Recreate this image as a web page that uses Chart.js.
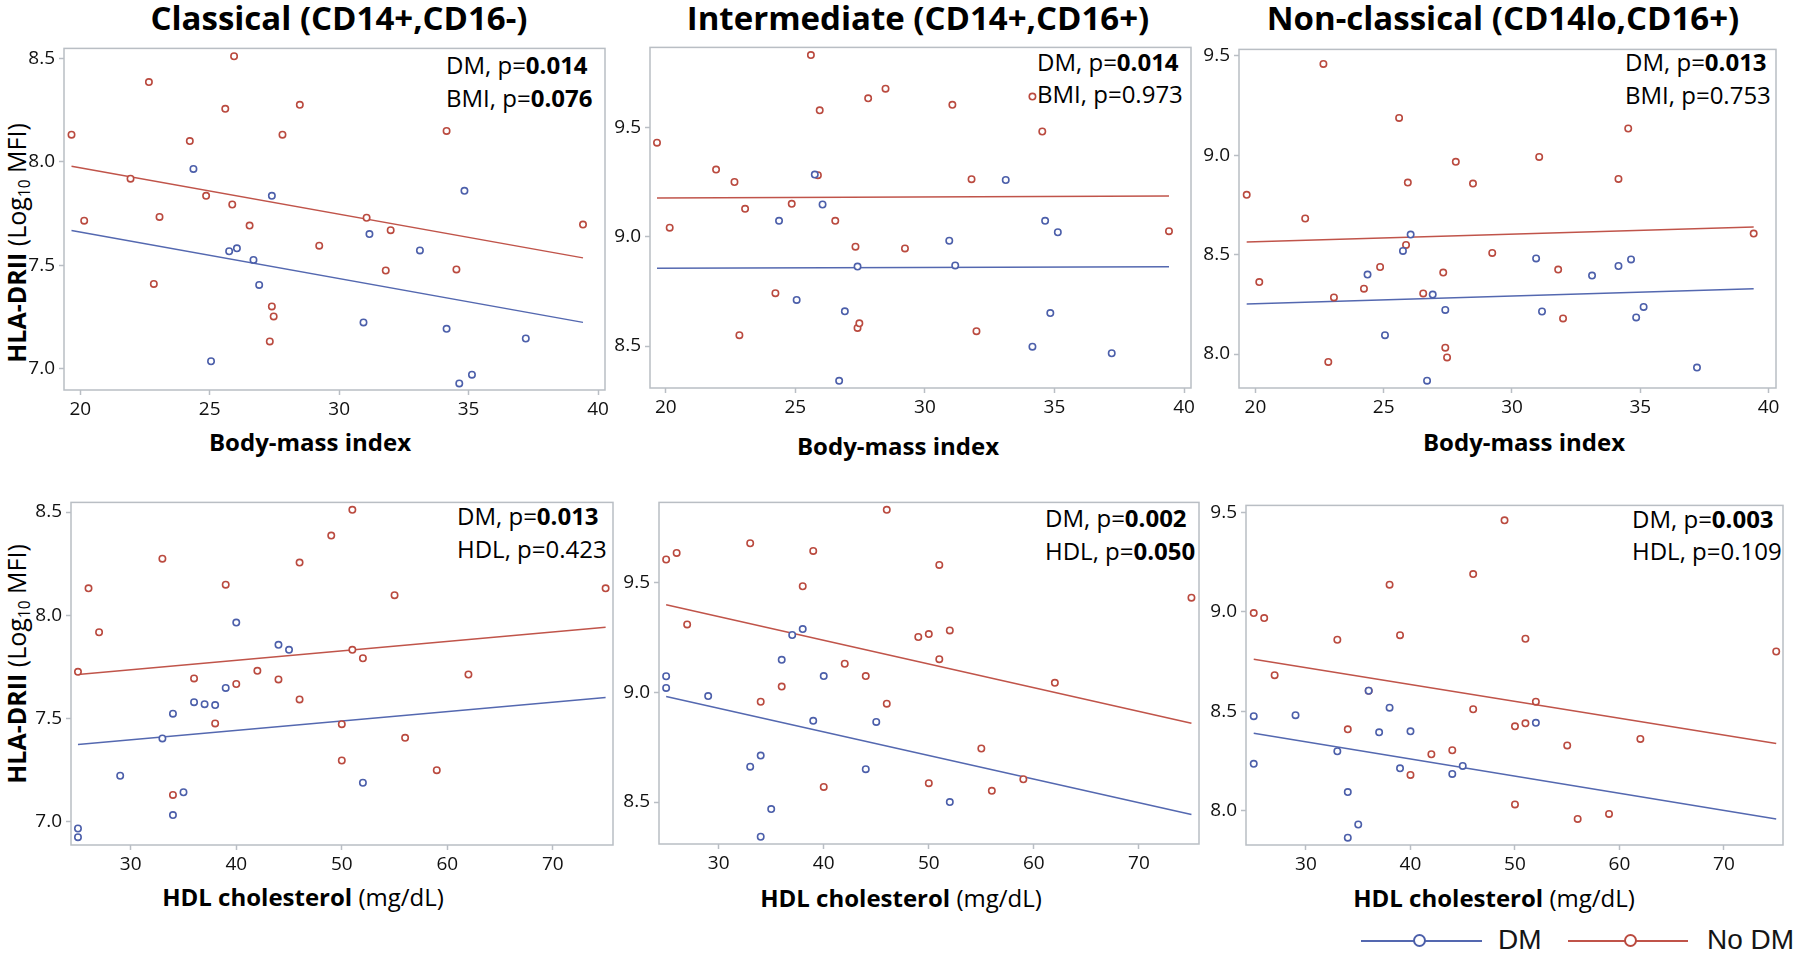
<!DOCTYPE html>
<html>
<head>
<meta charset="utf-8">
<title>HLA-DRII vs BMI and HDL</title>
<script src="https://cdn.jsdelivr.net/npm/chart.js@4.4.0/dist/chart.umd.min.js"></script>
<style>
    html, body { margin: 0; padding: 0; background: #fff; width: 1800px; height: 957px; overflow: hidden; }
    body { position: relative; font-family: 'Open Sans', sans-serif; color: #000; }
    canvas { position: absolute; }
    .txt { position: absolute; white-space: nowrap; line-height: 1; }
    .title { font-size: 33px; font-weight: bold; transform: translateX(-50%); }
    .xlab { font-size: 24px; font-weight: bold; transform: translateX(-50%); }
    .xlab span { font-weight: normal; }
    .note { font-size: 24px; }
    .ylab { font-size: 25px; font-weight: bold; transform: translate(-50%, -50%) rotate(-90deg); }
    .ylab span { font-weight: normal; }
    sub { font-size: 0.62em; vertical-align: -0.28em; line-height: 0; }
    .leg-line { position: absolute; height: 2px; }
    .leg-dot { position: absolute; width: 13px; height: 13px; box-sizing: border-box; border: 2px solid; border-radius: 50%; background: #fff; }
    .leg-txt { position: absolute; font-family: 'Liberation Sans', Arial, sans-serif; font-size: 28px; line-height: 1; color: #151515; }
</style>
</head>
<body>

<div class="txt title" style="left:339px; top:1px;">Classical (CD14+,CD16-)</div>
<div class="txt title" style="left:918px; top:1px;">Intermediate (CD14+,CD16+)</div>
<div class="txt title" style="left:1503px; top:1px;">Non-classical (CD14lo,CD16+)</div>

<div class="txt ylab" style="left:16px; top:243px;">HLA-DRII <span>(Log<sub>10</sub> MFI)</span></div>
<div class="txt ylab" style="left:16px; top:664px;">HLA-DRII <span>(Log<sub>10</sub> MFI)</span></div>

<div class="txt xlab" style="left:310px; top:430px;">Body-mass index</div>
<div class="txt xlab" style="left:898px; top:434px;">Body-mass index</div>
<div class="txt xlab" style="left:1524px; top:430px;">Body-mass index</div>
<div class="txt xlab" style="left:303px; top:885px;">HDL cholesterol <span>(mg/dL)</span></div>
<div class="txt xlab" style="left:901px; top:886px;">HDL cholesterol <span>(mg/dL)</span></div>
<div class="txt xlab" style="left:1494px; top:886px;">HDL cholesterol <span>(mg/dL)</span></div>

<div class="txt note" style="left:446px; top:53px;">DM, p=<b>0.014</b></div>
<div class="txt note" style="left:446px; top:86px;">BMI, p=<b>0.076</b></div>
<div class="txt note" style="left:1037px; top:50px;">DM, p=<b>0.014</b></div>
<div class="txt note" style="left:1037px; top:82px;">BMI, p=0.973</div>
<div class="txt note" style="left:1625px; top:50px;">DM, p=<b>0.013</b></div>
<div class="txt note" style="left:1625px; top:83px;">BMI, p=0.753</div>
<div class="txt note" style="left:457px; top:504px;">DM, p=<b>0.013</b></div>
<div class="txt note" style="left:457px; top:537px;">HDL, p=0.423</div>
<div class="txt note" style="left:1045px; top:506px;">DM, p=<b>0.002</b></div>
<div class="txt note" style="left:1045px; top:539px;">HDL, p=<b>0.050</b></div>
<div class="txt note" style="left:1632px; top:507px;">DM, p=<b>0.003</b></div>
<div class="txt note" style="left:1632px; top:539px;">HDL, p=0.109</div>

<div class="leg-line" style="left:1361px; top:940px; width:121px; background:#5468b0;"></div>
<div class="leg-dot" style="left:1413px; top:934px; border-color:#4c5faa;"></div>
<div class="leg-txt" style="left:1498px; top:926px;">DM</div>
<div class="leg-line" style="left:1568px; top:940px; width:120px; background:#c0544a;"></div>
<div class="leg-dot" style="left:1624px; top:934px; border-color:#ba4a3f;"></div>
<div class="leg-txt" style="left:1707px; top:926px;">No DM</div>

<script>
// tick values
const bmiTicks = [20, 25, 30, 35, 40];
const hdlTicks = [30, 40, 50, 60, 70];
const lowTicks = [7.0, 7.5, 8.0, 8.5];
const midTicks = [8.5, 9.0, 9.5];
const highTicks = [8.0, 8.5, 9.0, 9.5];

// x values, shared by the panels of one row
const bmiDM = [24.37, 25.05, 25.75, 26.05, 26.69, 26.91, 27.40, 30.94, 31.17, 33.12, 34.15, 34.64, 34.84, 35.13, 37.21];
const bmiNoDM = [19.66, 20.15, 21.94, 22.65, 22.84, 23.06, 24.23, 24.86, 25.60, 25.87, 25.94, 26.54, 27.32, 27.40, 27.47, 27.81, 28.48, 29.23, 31.06, 31.80, 31.99, 34.15, 34.53, 39.42];
const hdlDM = [25, 25, 29, 33, 34, 34, 35, 36, 37, 38, 39, 40, 44, 45, 52];
const hdlNoDM = [25, 26, 27, 33, 34, 36, 38, 39, 40, 42, 44, 46, 46, 49, 50, 50, 51, 51, 52, 55, 56, 59, 62, 75];

// HLA-DRII, top row (BMI)
const classicalBmiDM = [7.965, 7.035, 7.567, 7.581, 7.525, 7.404, 7.835, 7.223, 7.650, 7.571, 7.192, 6.928, 7.859, 6.970, 7.145];
const classicalBmiNoDM = [8.131, 7.715, 7.918, 8.385, 7.409, 7.733, 8.100, 7.835, 8.256, 7.793, 8.510, 7.691, 7.131, 7.300, 7.252, 8.131, 8.275, 7.594, 7.729, 7.474, 7.669, 8.149, 7.479, 7.696];
const intermBmiDM = [9.073, 8.711, 9.285, 9.148, 8.341, 8.659, 8.864, 8.982, 8.869, 9.260, 8.497, 9.073, 8.651, 9.021, 8.467];
const intermBmiNoDM = [9.431, 9.042, 9.308, 9.251, 8.550, 9.128, 8.742, 9.151, 9.832, 9.282, 9.579, 9.073, 8.955, 8.583, 8.604, 9.634, 9.678, 8.947, 9.604, 9.264, 8.568, 9.642, 9.482, 9.026];
const nonclassBmiDM = [8.400, 8.095, 8.519, 8.601, 7.866, 8.299, 8.222, 8.481, 8.214, 8.395, 8.443, 8.476, 8.184, 8.237, 7.932];
const nonclassBmiNoDM = [8.801, 8.362, 8.682, 9.460, 7.960, 8.285, 8.329, 8.438, 9.188, 8.549, 8.863, 8.305, 8.410, 8.032, 7.983, 8.967, 8.858, 8.509, 8.992, 8.425, 8.179, 8.881, 9.135, 8.606];

// HLA-DRII, bottom row (HDL)
const classicalHdlDM = [6.965, 6.923, 7.221, 7.402, 7.522, 7.030, 7.141, 7.578, 7.568, 7.564, 7.647, 7.964, 7.856, 7.832, 7.187];
const classicalHdlNoDM = [7.725, 8.130, 7.917, 8.274, 7.128, 7.693, 7.475, 8.148, 7.666, 7.730, 7.688, 8.255, 7.591, 8.386, 7.471, 7.295, 8.511, 7.832, 7.791, 8.097, 7.405, 7.248, 7.712, 8.130];
const intermHdlDM = [9.073, 9.020, 8.983, 8.661, 8.712, 8.342, 8.468, 9.148, 9.261, 9.288, 8.870, 9.074, 8.650, 8.865, 8.500];
const intermHdlNoDM = [9.605, 9.635, 9.309, 9.679, 8.957, 9.026, 9.483, 9.644, 8.569, 9.130, 9.074, 9.831, 8.948, 9.252, 9.265, 8.586, 9.580, 9.151, 9.282, 8.744, 8.551, 8.604, 9.043, 9.431];
const nonclassHdlDM = [8.476, 8.237, 8.481, 8.300, 8.095, 7.866, 7.932, 8.604, 8.395, 8.519, 8.214, 8.400, 8.186, 8.226, 8.443];
const nonclassHdlNoDM = [8.994, 8.969, 8.682, 8.860, 8.410, 8.604, 9.137, 8.883, 8.181, 8.285, 8.305, 9.190, 8.511, 9.460, 8.425, 8.033, 8.865, 8.440, 8.549, 8.329, 7.960, 7.985, 8.362, 8.801];

// regression lines, start and end
const bmiFitX = [19.66, 39.42];
const hdlFitX = [25, 75];
const classicalBmiFitDM = [7.667, 7.223];
const classicalBmiFitNoDM = [7.978, 7.535];
const intermBmiFitDM = [8.856, 8.863];
const intermBmiFitNoDM = [9.178, 9.187];
const nonclassBmiFitDM = [8.252, 8.329];
const nonclassBmiFitNoDM = [8.564, 8.639];
const classicalHdlFitDM = [7.373, 7.600];
const classicalHdlFitNoDM = [7.712, 7.941];
const intermHdlFitDM = [8.981, 8.443];
const intermHdlFitNoDM = [9.399, 8.859];
const nonclassHdlFitDM = [8.390, 7.960];
const nonclassHdlFitNoDM = [8.762, 8.339];

const BLUE = '#4c5faa';
const RED = '#ba4a3f';
const BLUE_LINE = '#5468b0';
const RED_LINE = '#c0544a';
const GREY = '#b9bec4';

// fixed room around each plot box
const Y_W = 60;
const X_H = 40;
const PAD_T = 12;
const PAD_R = 16;

Chart.defaults.font.family = "'Open Sans', sans-serif";

const frame = {
    id: 'frame',
    beforeDatasetsDraw(chart) {
        const a = chart.chartArea;
        const ctx = chart.ctx;
        ctx.save();
        ctx.strokeStyle = GREY;
        ctx.lineWidth = 1.5;
        ctx.strokeRect(a.left, a.top, a.right - a.left, a.bottom - a.top);
        ctx.restore();
    }
};

function toPoints(xs, ys) {
    return xs.map((x, i) => ({ x: x, y: ys[i] }));
}

function makePanel(p) {
    const canvas = document.createElement('canvas');
    const w = Math.round(p.box[2] - p.box[0] + Y_W + PAD_R);
    const h = Math.round(p.box[3] - p.box[1] + PAD_T + X_H);
    canvas.width = w;
    canvas.height = h;
    canvas.style.width = w + 'px';
    canvas.style.height = h + 'px';
    canvas.style.left = (p.box[0] - Y_W) + 'px';
    canvas.style.top = (p.box[1] - PAD_T) + 'px';
    document.body.appendChild(canvas);

    const tickFont = { size: 19 };

    new Chart(canvas, {
        type: 'scatter',
        data: {
            datasets: [
                {
                    label: 'DM',
                    data: toPoints(p.xDM, p.yDM),
                    borderColor: BLUE,
                    backgroundColor: '#fff',
                    pointRadius: 3.2,
                    pointBorderWidth: 1.6
                },
                {
                    label: 'No DM',
                    data: toPoints(p.xNoDM, p.yNoDM),
                    borderColor: RED,
                    backgroundColor: '#fff',
                    pointRadius: 3.2,
                    pointBorderWidth: 1.6
                },
                {
                    label: 'DM fit',
                    data: toPoints(p.fitX, p.fitDM),
                    showLine: true,
                    pointRadius: 0,
                    borderColor: BLUE_LINE,
                    borderWidth: 1.5
                },
                {
                    label: 'No DM fit',
                    data: toPoints(p.fitX, p.fitNoDM),
                    showLine: true,
                    pointRadius: 0,
                    borderColor: RED_LINE,
                    borderWidth: 1.5
                }
            ]
        },
        options: {
            responsive: false,
            animation: false,
            devicePixelRatio: 1,
            layout: { padding: { left: 0, top: PAD_T, right: PAD_R, bottom: 0 } },
            plugins: { legend: { display: false }, tooltip: { enabled: false } },
            scales: {
                x: {
                    type: 'linear',
                    min: p.xRange[0],
                    max: p.xRange[1],
                    afterBuildTicks: s => { s.ticks = p.xTicks.map(v => ({ value: v })); },
                    afterFit: s => { s.height = X_H; },
                    border: { display: false },
                    grid: { drawOnChartArea: false, drawTicks: true, tickLength: 5, tickColor: GREY, tickWidth: 1.5 },
                    ticks: { autoSkip: false, maxRotation: 0, padding: 3, color: '#111', font: tickFont, callback: v => String(v) }
                },
                y: {
                    type: 'linear',
                    min: p.yRange[0],
                    max: p.yRange[1],
                    afterBuildTicks: s => { s.ticks = p.yTicks.map(v => ({ value: v })); },
                    afterFit: s => { s.width = Y_W; },
                    border: { display: false },
                    grid: { drawOnChartArea: false, drawTicks: true, tickLength: 5, tickColor: GREY, tickWidth: 1.5 },
                    ticks: { autoSkip: false, padding: 4, color: '#111', font: tickFont, callback: v => v.toFixed(1) }
                }
            }
        },
        plugins: [frame]
    });
}

const panels = [
    { box: [64, 45, 605, 390], xRange: [19.37, 40.27], yRange: [6.896, 8.548], xTicks: bmiTicks, yTicks: lowTicks,
      xDM: bmiDM, yDM: classicalBmiDM, xNoDM: bmiNoDM, yNoDM: classicalBmiNoDM, fitX: bmiFitX, fitDM: classicalBmiFitDM, fitNoDM: classicalBmiFitNoDM },
    { box: [650, 44, 1191, 388], xRange: [19.39, 40.27], yRange: [8.308, 9.867], xTicks: bmiTicks, yTicks: midTicks,
      xDM: bmiDM, yDM: intermBmiDM, xNoDM: bmiNoDM, yNoDM: intermBmiNoDM, fitX: bmiFitX, fitDM: intermBmiFitDM, fitNoDM: intermBmiFitNoDM },
    { box: [1239, 46, 1776, 388], xRange: [19.36, 40.29], yRange: [7.829, 9.533], xTicks: bmiTicks, yTicks: highTicks,
      xDM: bmiDM, yDM: nonclassBmiDM, xNoDM: bmiNoDM, yNoDM: nonclassBmiNoDM, fitX: bmiFitX, fitDM: nonclassBmiFitDM, fitNoDM: nonclassBmiFitNoDM },
    { box: [71, 499, 613, 845], xRange: [24.34, 75.7], yRange: [6.885, 8.547], xTicks: hdlTicks, yTicks: lowTicks,
      xDM: hdlDM, yDM: classicalHdlDM, xNoDM: hdlNoDM, yNoDM: classicalHdlNoDM, fitX: hdlFitX, fitDM: classicalHdlFitDM, fitNoDM: classicalHdlFitNoDM },
    { box: [659, 499, 1199, 844], xRange: [24.32, 75.72], yRange: [8.309, 9.865], xTicks: hdlTicks, yTicks: midTicks,
      xDM: hdlDM, yDM: intermHdlDM, xNoDM: hdlNoDM, yNoDM: intermHdlNoDM, fitX: hdlFitX, fitDM: intermHdlFitDM, fitNoDM: intermHdlFitNoDM },
    { box: [1246, 502, 1783, 845], xRange: [24.26, 75.65], yRange: [7.829, 9.535], xTicks: hdlTicks, yTicks: highTicks,
      xDM: hdlDM, yDM: nonclassHdlDM, xNoDM: hdlNoDM, yNoDM: nonclassHdlNoDM, fitX: hdlFitX, fitDM: nonclassHdlFitDM, fitNoDM: nonclassHdlFitNoDM }
];

panels.forEach(makePanel);
</script>
</body>
</html>
